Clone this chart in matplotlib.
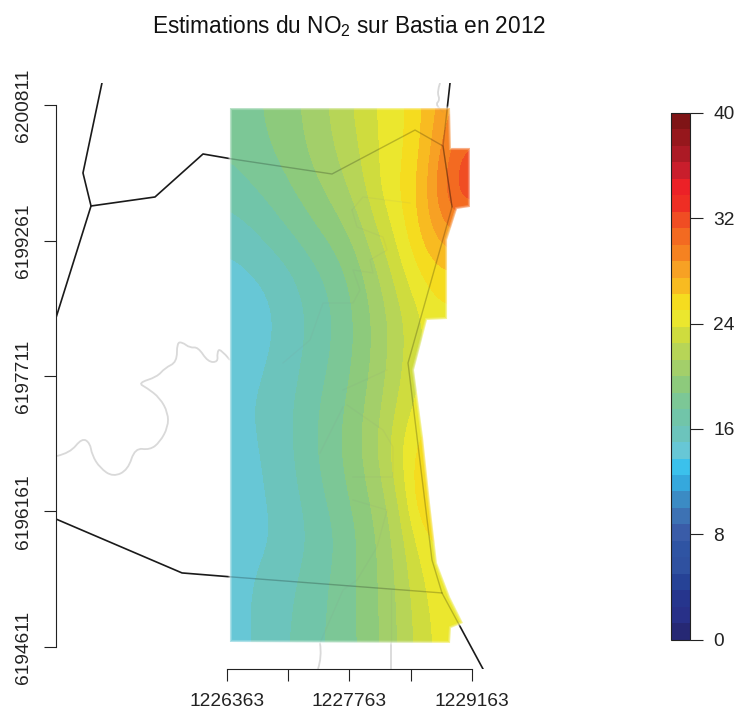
import numpy as np
import matplotlib
matplotlib.use("Agg")
import matplotlib.pyplot as plt
from matplotlib.colors import ListedColormap, BoundaryNorm
from matplotlib.patches import Polygon, PathPatch
from matplotlib.path import Path
from matplotlib.cm import ScalarMappable

plt.rcParams['font.family'] = ['Liberation Sans', 'DejaVu Sans']
plt.rcParams['mathtext.default'] = 'regular'
plt.rcParams['mathtext.fontset'] = 'custom'
plt.rcParams['mathtext.rm'] = 'Liberation Sans'

TITLE = "Estimations du NO$_2$ sur Bastia en 2012"
E0, N0 = 1226363, 6194611

# --- tick values
x_ticks = [1226363, 1227063, 1227763, 1228463, 1229163]
x_labels = ["1226363", "", "1227763", "", "1229163"]
y_ticks = [6194611, 6196161, 6197711, 6199261, 6200811]
y_labels = ["6194611", "6196161", "6197711", "6199261", "6200811"]
cb_ticks = [0, 8, 16, 24, 32, 40]

# --- NO2 field (µg/m3), offsets in metres from (E0, N0); rows north to south
grid_east = [0, 250, 500, 750, 1000, 1250, 1500, 1750, 2000, 2250, 2500, 2750, 3000]
grid_north = [6250, 5750, 5250, 4750, 4250, 3750, 3250, 2750, 2250, 1750, 1250, 750, 250, -250]
no2 = [
    [18.0, 18.4, 19.0, 19.7, 20.6, 21.7, 22.8, 24.0, 24.8, 26.3, 28.3, 28.8, 29.0],
    [17.8, 18.2, 18.8, 19.5, 20.4, 21.4, 22.5, 23.9, 24.7, 26.5, 29.3, 31.6, 31.0],
    [16.9, 17.4, 18.0, 18.8, 19.7, 20.7, 21.9, 23.9, 25.2, 27.0, 30.6, 33.0, 32.0],
    [15.5, 16.0, 16.8, 17.6, 18.5, 19.4, 20.7, 22.7, 24.6, 26.8, 28.6, 29.0, 29.0],
    [14.5, 14.8, 15.3, 16.1, 17.1, 18.1, 19.5, 21.3, 23.5, 25.2, 26.0, 25.5, 25.0],
    [14.0, 14.3, 14.8, 15.6, 16.6, 17.6, 19.0, 20.6, 22.3, 23.9, 24.6, 24.5, 24.5],
    [14.2, 14.5, 15.1, 15.8, 16.9, 17.8, 19.1, 20.7, 22.4, 24.0, 24.5, 24.5, 24.5],
    [14.5, 14.9, 15.5, 16.2, 17.3, 18.3, 19.6, 21.1, 23.0, 24.4, 24.8, 24.8, 24.8],
    [14.4, 14.7, 15.3, 16.2, 17.4, 18.5, 19.8, 21.5, 24.0, 25.8, 25.8, 25.5, 25.5],
    [14.3, 14.6, 15.1, 15.9, 17.0, 18.1, 19.3, 20.8, 23.0, 26.9, 27.0, 25.5, 25.0],
    [14.4, 14.6, 14.9, 15.6, 16.5, 17.5, 18.8, 20.2, 22.2, 24.8, 25.3, 25.0, 25.0],
    [14.4, 14.9, 15.4, 16.1, 16.9, 17.8, 18.8, 20.1, 21.8, 23.8, 24.8, 24.8, 24.8],
    [14.2, 15.0, 15.6, 16.3, 17.1, 17.9, 18.8, 20.0, 21.6, 23.4, 24.5, 24.5, 24.2],
    [14.1, 14.9, 15.6, 16.4, 17.2, 17.9, 18.7, 20.0, 21.6, 23.2, 24.5, 24.5, 24.0],
]
outline_east = [34, 2549, 2560, 2777, 2777, 2629, 2515, 2515, 2286, 2137, 2240, 2320,
                2400, 2549, 2697, 2560, 2549, 34]
outline_north = [6166, 6166, 5709, 5709, 5034, 5011, 4656, 3752, 3741, 3169, 2402, 1647,
                 961, 572, 275, 217, 46, 57]

# --- black roads / boundaries (offsets in metres)
roads = [
    ([-1429, -1646, -1554, -1955], [6452, 5423, 5045, 3764]),
    ([-1554, -823, -274, 57, 1200, 2149, 2469, 2572], [5045, 5148, 5640, 5583, 5411, 5914, 5731, 5034]),
    ([2549, 2469, 2572, 2069, 2343, 2457, 2926], [6452, 5731, 5034, 3249, 995, 618, -252]),
    ([-1955, -514, 57, 2457], [1464, 847, 801, 618]),
]
# --- grey lines (offsets in metres)
streets = [
    ([34, -80, -114, -103, -217, -331, -423, -514, -572, -572, -709, -800, -1017, -914, -766,
      -674, -674, -766, -880, -1052, -1132, -1303, -1452, -1543, -1566, -1657, -1795, -1943],
     [3283, 3421, 3363, 3260, 3260, 3432, 3421, 3489, 3478, 3260, 3192, 3089, 3020, 2963, 2849,
      2677, 2517, 2345, 2254, 2277, 2025, 1945, 2048, 2196, 2334, 2391, 2219, 2185]),
    ([1063, 1086, 1040], [46, -114, -252]),
    ([1875, 1875], [652, -252]),
    ([2435, 2400, 2435, 2377, 2469], [6452, 6349, 6258, 6200, 6120]),
]
inner_streets = [
    ([1429, 1554, 2092], [4999, 5148, 5079]),
    ([1429, 1486, 1783, 1829, 1634, 1669, 1440, 1520, 1440, 1097, 949, 640],
     [4999, 4805, 4690, 4542, 4427, 4279, 4313, 4084, 3935, 3935, 3512, 3249]),
    ([1326, 1829], [2940, 3169]),
    ([1326, 1063], [2746, 2219]),
    ([1372, 1783, 1897, 1897, 1440], [2768, 2482, 2288, 1945, 1945]),
    ([1440, 1829, 1715, 1486, 1326, 1063], [1682, 1567, 1144, 766, 652, 46]),
]

band_colors = ["#262874", "#283088", "#26358d", "#264296", "#2a4b9f", "#2f51a0",
               "#2f54a3", "#3a5ca8", "#3d72b4", "#3b8bc4", "#35a8dd", "#3bc1ec", "#67c7d6", "#6cc4bc",
               "#71c5a9", "#7cc796", "#8dca7c", "#a3cf6a", "#b7d557", "#cfdc3e", "#ebe72e",
               "#f5dc1f", "#f8bb21", "#f7a124", "#f58221", "#f36a21", "#f04d23", "#ee2e24",
               "#ec2127", "#c91e2c", "#ac1a25", "#96171c", "#7f1416"]
band_colors = band_colors[:4] + band_colors[5:]  # 32 classes
levels = np.linspace(0, 40, 33)
cmap = ListedColormap(band_colors)
norm = BoundaryNorm(levels, cmap.N)


def smooth_path(ex, ny):
    """Quadratic Bezier path that rounds the corners of a polyline."""
    p = np.column_stack([E0 + np.array(ex, float), N0 + np.array(ny, float)])
    verts, codes = [p[0]], [Path.MOVETO]
    for i in range(1, len(p) - 1):
        end = (p[i] + p[i + 1]) / 2 if i < len(p) - 2 else p[i + 1]
        verts += [p[i], end]
        codes += [Path.CURVE3, Path.CURVE3]
    return Path(verts, codes) if len(p) > 2 else Path(p)


W, H = 736, 713
fig = plt.figure(figsize=(W / 100, H / 100), dpi=100)
ax = fig.add_axes([56 / W, 1 - 669 / H, (490 - 56) / W, (669 - 83) / H])

for ex, ny in streets:
    ax.add_patch(PathPatch(smooth_path(ex, ny), fill=False, edgecolor="#d9d9d9", lw=1.3, zorder=1))
for ex, ny in roads:
    ax.plot(E0 + np.array(ex), N0 + np.array(ny), color="#1a1a1a", lw=1.2, zorder=2)

outline = np.column_stack([E0 + np.array(outline_east), N0 + np.array(outline_north)])
clip = Polygon(outline, closed=True, transform=ax.transData, facecolor="none", edgecolor="none")
ax.add_patch(clip)
east_step = grid_east[1] - grid_east[0]
north_step = grid_north[0] - grid_north[1]
im = ax.imshow(np.array(no2), cmap=cmap, norm=norm, aspect="auto", origin="upper",
               interpolation="bicubic", interpolation_stage="data", zorder=3,
               extent=(E0 + grid_east[0] - east_step / 2, E0 + grid_east[-1] + east_step / 2,
                       N0 + grid_north[-1] - north_step / 2, N0 + grid_north[0] + north_step / 2))
im.set_clip_path(clip)
ax.add_patch(Polygon(outline, closed=True, facecolor="none", edgecolor="white", lw=3.0, alpha=0.22, zorder=4))
ax.add_patch(Polygon(outline, closed=True, facecolor="none", edgecolor="white", lw=1.4, alpha=0.35, zorder=4))

ax.set_xlim(E0 - 1954.3, E0 + 3006)
ax.set_ylim(N0 - 252, N0 + 6452)

# lines showing faintly through the field
for ex, ny in roads:
    l, = ax.plot(E0 + np.array(ex), N0 + np.array(ny), color="black", lw=1.0, alpha=0.22, zorder=5)
    l.set_clip_path(clip)
for ex, ny in streets + inner_streets:
    l, = ax.plot(E0 + np.array(ex), N0 + np.array(ny), color="#8a8a8a", lw=0.9, alpha=0.09, zorder=5)
    l.set_clip_path(clip)

for s in ("top", "right"):
    ax.spines[s].set_visible(False)
ax.spines["left"].set_bounds(y_ticks[0], y_ticks[-1])
ax.spines["bottom"].set_bounds(x_ticks[0], x_ticks[-1])
for s in ("left", "bottom"):
    ax.spines[s].set_linewidth(0.8)
    ax.spines[s].set_color("#222222")
ax.set_xticks(x_ticks, x_labels, fontsize=13.8, color="#222222")
ax.set_yticks(y_ticks, y_labels, fontsize=13.8, color="#222222", rotation=90, va="center")
ax.tick_params(axis="x", length=8.6, width=0.8, color="#222222", pad=9)
ax.tick_params(axis="y", length=8.6, width=0.8, color="#222222", pad=9)

fig.text(349.5 / W, 1 - 26 / H, TITLE, ha="center", va="center", fontsize=16.3, color="#111111")

cax = fig.add_axes([671 / W, 1 - 639.5 / H, 18.5 / W, (639.5 - 113) / H])
cb = fig.colorbar(ScalarMappable(norm=norm, cmap=cmap), cax=cax, ticks=cb_ticks, spacing="proportional", drawedges=False)
cb.set_ticklabels([str(t) for t in cb_ticks])
cb.outline.set_linewidth(0.8)
cb.outline.set_edgecolor("#222222")
cax.minorticks_off()
cax.tick_params(axis="y", length=9, width=0.8, color="#222222", pad=8, labelsize=13.8, labelcolor="#222222")

fig.savefig("out.png", dpi=100)
